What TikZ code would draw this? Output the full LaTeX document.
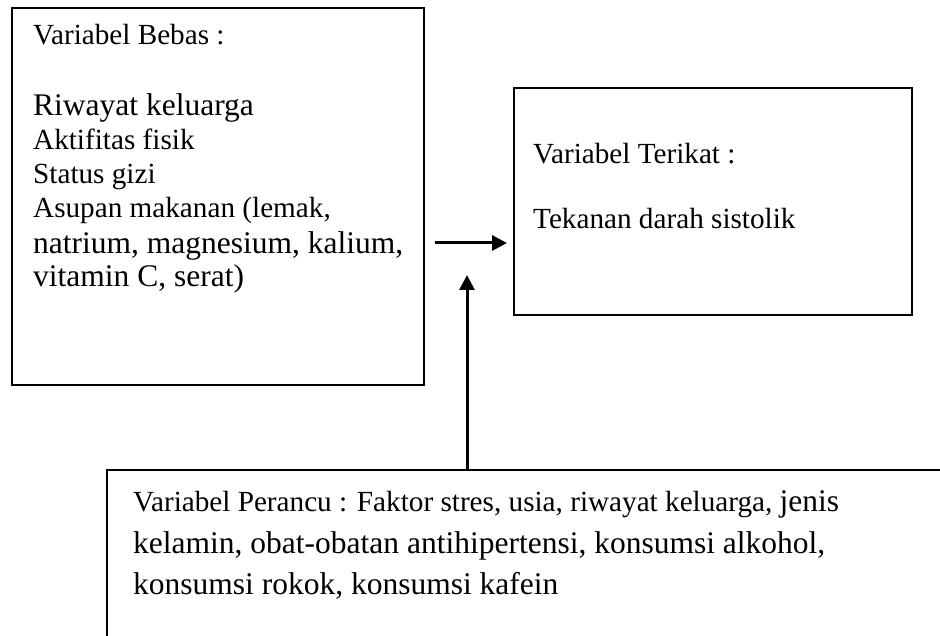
\documentclass[tikz,border=0pt]{standalone}
\usepackage{fontspec}
\setmainfont[Ligatures=NoCommon]{Liberation Serif}
\usetikzlibrary{arrows.meta}
\newcommand{\smallsz}{\fontsize{29.2}{34}\selectfont}
\newcommand{\largesz}{\fontsize{31.5}{37}\selectfont}
\tikzset{
  boxnode/.style={draw=black, line width=2, rectangle, inner sep=0, fill=none},
  txt/.style={anchor=base west, inner sep=0, font=\smallsz},
  txtl/.style={anchor=base west, inner sep=0, font=\largesz},
  arr/.style={line width=3, -{Triangle[length=15,width=15]}}
}
\begin{document}
\begin{tikzpicture}[x=1pt,y=-1pt]
\clip (0,0) rectangle (940,636);
\fill[white] (0,0) rectangle (940,636);
% boxes
\node[boxnode, minimum width=412, minimum height=377] (bebas) at (218,196.5) {};
\node[boxnode, minimum width=398, minimum height=227] (terikat) at (713,201.5) {};
\node[boxnode, minimum width=900, minimum height=300] (perancu) at (557,620) {};
% texts in left box
\node[txt]  (b1) at (33,45)  {Variabel Bebas :};
\node[txtl] (b2) at (33,116) {Riwayat keluarga};
\node[txt]  (b3) at (33,150) {Aktifitas fisik};
\node[txt]  (b4) at (33,184) {Status gizi};
\node[txt]  (b5) at (33,218) {Asupan makanan (lemak,};
\node[txtl] (b6) at (33,254) {natrium, magnesium, kalium,};
\node[txtl] (b7) at (33,287) {vitamin C, serat)};
% texts in right box
\node[txt] (t1) at (533,164) {Variabel Terikat :};
\node[txt] (t2) at (533,229) {Tekanan darah sistolik};
% texts in bottom box
\node[txt]  (p1) at (133,511) {Variabel Perancu : Faktor stres, usia, riwayat keluarga, {\largesz jenis}};
\node[txtl] (p2) at (133,553) {kelamin, obat-obatan antihipertensi, konsumsi alkohol,};
\node[txtl] (p3) at (133,594) {konsumsi rokok, konsumsi kafein};
% arrows
\coordinate (h1) at (435,243);
\coordinate (h2) at (507,243);
\coordinate (v1) at (467,470);
\coordinate (v2) at (467,275);
\draw[arr] (h1) -- (h2);
\draw[arr] (v1) -- (v2);
\end{tikzpicture}
\end{document}
